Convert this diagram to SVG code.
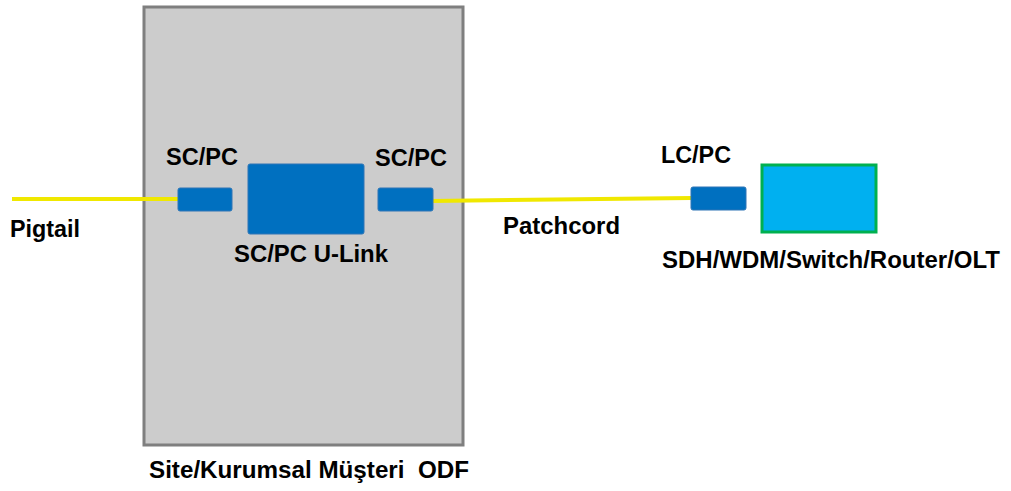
<svg xmlns="http://www.w3.org/2000/svg" width="1011" height="491" viewBox="0 0 1011 491">
  <style>
    .lbl { font-family: "Liberation Sans", Arial, sans-serif; font-weight: bold; font-size: 23px; fill: #000; white-space: pre; }
    .conn { fill: #0070c0; stroke: #2e75b6; stroke-width: 1; }
    .fiber { stroke: #f0e800; stroke-width: 4; fill: none; }
  </style>
  <rect width="1011" height="491" fill="#ffffff"/>

  <!-- ODF enclosure -->
  <g id="odf">
    <rect x="144" y="7" width="319" height="438" fill="#cccccc" stroke="#7f7f7f" stroke-width="3"/>
    <text class="lbl" x="149" y="478" textLength="320" lengthAdjust="spacingAndGlyphs" xml:space="preserve">Site/Kurumsal Müşteri  ODF</text>
  </g>

  <!-- fiber runs -->
  <g id="connectors">
    <line class="fiber" x1="12" y1="199" x2="179" y2="199"/>
    <line class="fiber" x1="431" y1="201" x2="692" y2="198"/>
  </g>

  <g id="pigtail">
    <text class="lbl" x="10" y="237" textLength="70" lengthAdjust="spacingAndGlyphs">Pigtail</text>
  </g>

  <g id="sc-pc-left">
    <rect class="conn" x="178" y="188" width="54" height="23" rx="2"/>
    <text class="lbl" x="166" y="165" textLength="72" lengthAdjust="spacingAndGlyphs">SC/PC</text>
  </g>

  <g id="u-link">
    <rect class="conn" x="248" y="164" width="116" height="70" rx="2"/>
    <text class="lbl" x="234" y="262" textLength="154" lengthAdjust="spacingAndGlyphs">SC/PC U-Link</text>
  </g>

  <g id="sc-pc-right">
    <rect class="conn" x="378" y="188" width="55" height="23" rx="2"/>
    <text class="lbl" x="375" y="166" textLength="72" lengthAdjust="spacingAndGlyphs">SC/PC</text>
  </g>

  <g id="patchcord">
    <text class="lbl" x="503" y="234" textLength="117" lengthAdjust="spacingAndGlyphs">Patchcord</text>
  </g>

  <g id="lc-pc">
    <rect class="conn" x="691" y="187" width="55" height="23" rx="2"/>
    <text class="lbl" x="661" y="163" textLength="70" lengthAdjust="spacingAndGlyphs">LC/PC</text>
  </g>

  <g id="equipment">
    <rect x="762" y="165" width="114" height="67" fill="#00b0f0" stroke="#00b050" stroke-width="3"/>
    <text class="lbl" x="662" y="268" textLength="338" lengthAdjust="spacingAndGlyphs">SDH/WDM/Switch/Router/OLT</text>
  </g>
</svg>
